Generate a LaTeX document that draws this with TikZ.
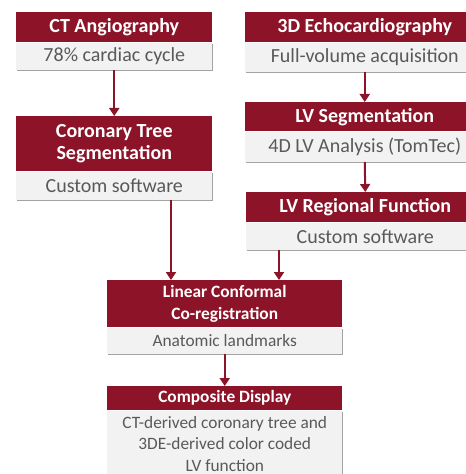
\documentclass[tikz,border=0pt]{standalone}
\usepackage{fontspec}
\setmainfont{Carlito}
\usetikzlibrary{positioning,arrows.meta,shadows}

\definecolor{darkred}{HTML}{8C1328}
\definecolor{boxgray}{HTML}{F2F2F2}
\definecolor{textgray}{HTML}{595959}

\tikzset{
  head/.style={fill=darkred, text=white, font=\bfseries\fontsize{15}{16.5}\selectfont,
    align=center, inner sep=0pt},
  info/.style={fill=boxgray, text=textgray, font=\fontsize{15}{17}\selectfont,
    align=center, inner sep=0pt,
    drop shadow={shadow xshift=0.4pt, shadow yshift=-1.2pt, fill=black!45, opacity=0.8}},
  small/.style={font=\fontsize{13}{16}\selectfont},
  arr/.style={-{Triangle[length=6pt,width=7.5pt]}, darkred, line width=1.5pt}
}

\begin{document}
\begin{tikzpicture}[x=0.75pt, y=-0.75pt]
  \useasboundingbox (0,0) rectangle (466,474);

  % CT branch
  \node[head, anchor=north west, minimum width=147pt, minimum height=22.5pt] (ct) at (16,12) {CT Angiography};
  \node[info, below=0pt of ct, minimum width=147pt, minimum height=20.25pt] (ctinfo) {78\% cardiac cycle};

  \node[head, anchor=north west, minimum width=147pt, minimum height=41.25pt] (cor) at (16,116) {Coronary Tree\\Segmentation};
  \node[info, below=0pt of cor, minimum width=147pt, minimum height=21pt] (corinfo) {Custom software};

  % Echo branch (runs past the right edge)
  \node[head, anchor=north west, minimum width=179.25pt, minimum height=22.5pt] (echo) at (245,12) {3D Echocardiography};
  \node[info, below=0pt of echo, minimum width=179.25pt, minimum height=21.75pt] (echoinfo) {Full-volume acquisition};

  \node[head, anchor=north west, minimum width=179.25pt, minimum height=21.75pt] (seg) at (245,102) {LV Segmentation};
  \node[info, below=0pt of seg, minimum width=179.25pt, minimum height=22.5pt] (seginfo) {4D LV Analysis (TomTec)};

  \node[head, anchor=north west, minimum width=178.5pt, minimum height=22.5pt] (reg) at (246,192) {LV Regional Function};
  \node[info, below=0pt of reg, minimum width=178.5pt, minimum height=20.25pt] (reginfo) {Custom software};

  % Merged part
  \node[head, small, anchor=north west, minimum width=176.25pt, minimum height=35.25pt] (lin) at (107,280) {\bfseries Linear Conformal\\\bfseries Co-registration};
  \node[info, small, below=0pt of lin, minimum width=176.25pt, minimum height=19.5pt] (lininfo) {Anatomic landmarks};

  \node[head, small, anchor=north west, minimum width=176.25pt, minimum height=18pt] (comp) at (107,386) {\bfseries Composite Display};
  \node[info, small, below=0pt of comp, minimum width=176.25pt, minimum height=49.5pt] (compinfo) {CT-derived coronary tree and\\3DE-derived color coded\\LV function};

  % Arrows
  \coordinate (leftin) at (171,0);
  \coordinate (rightin) at (279,0);
  \draw[arr] (ctinfo.south) -- (cor.north);
  \draw[arr] (echoinfo.south) -- (seg.north);
  \draw[arr] (seginfo.south) -- (reg.north);
  \draw[arr] (corinfo.south -| leftin) -- (lin.north -| leftin);
  \draw[arr] (reginfo.south -| rightin) -- (lin.north -| rightin);
  \draw[arr] (lininfo.south) -- (comp.north);
\end{tikzpicture}
\end{document}
